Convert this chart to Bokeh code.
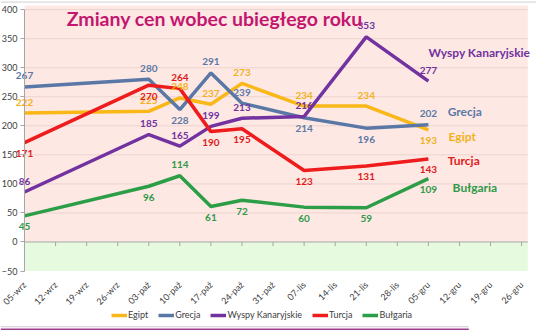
import math
from bokeh.plotting import figure
from bokeh.models import Range1d, Legend, LegendItem, Label, FixedTicker, BoxAnnotation, ColumnDataSource
from bokeh.core.properties import value
from bokeh.embed import file_html
from bokeh.resources import INLINE

# ---- data ----
dates = ["05-wrz", "12-wrz", "19-wrz", "26-wrz", "03-paź", "10-paź", "17-paź", "24-paź",
         "31-paź", "07-lis", "14-lis", "21-lis", "28-lis", "05-gru", "12-gru", "19-gru", "26-gru"]
obs_dates = ["05-wrz", "03-paź", "10-paź", "17-paź", "24-paź", "07-lis", "21-lis", "05-gru"]
egipt = [222, 225, 248, 237, 273, 234, 234, 193]
grecja = [267, 280, 228, 291, 239, 214, 196, 202]
wyspy = [86, 185, 165, 199, 213, 216, 353, 277]
turcja = [171, 270, 264, 190, 195, 123, 131, 143]
bulgaria = [45, 96, 114, 61, 72, 60, 59, 109]
y_ticks = [-50, 0, 50, 100, 150, 200, 250, 300, 350, 400]

# label placement (style)
egipt_pos = ["a", "a", "a", "a", "a", "a", "a", "b"]
grecja_pos = ["a", "a", "b", "a", "a", "b", "b", "a"]
wyspy_pos = ["a", "a", "a", "a", "a", "a", "a", "a"]
turcja_pos = ["b", "b", "a", "b", "b", "b", "b", "b"]
bulgaria_pos = ["b", "b", "a", "b", "b", "b", "b", "b"]

FONT = "Lato"
X0, X1 = -0.773, 16.48      # full-canvas frame
Y0, Y1 = -155.8, 415.7
AREA_R = 16.2               # right edge of plot area
AREA_T = 407

p = figure(width=536, height=332, output_backend="svg", toolbar_location=None,
           x_range=Range1d(X0, X1), y_range=Range1d(Y0, Y1),
           min_border_left=0, min_border_right=0, min_border_top=0, min_border_bottom=0)
p.background_fill_color = "white"
p.border_fill_color = "white"
p.outline_line_color = None
p.xgrid.grid_line_color = None
p.ygrid.grid_line_color = None

p.add_layout(BoxAnnotation(left=0, right=AREA_R, bottom=0, top=AREA_T, fill_color="#FDE8E4",
                           fill_alpha=1, line_color=None, level="underlay"))
p.add_layout(BoxAnnotation(left=0, right=AREA_R, bottom=-50, top=0, fill_color="#E6FADF",
                           fill_alpha=1, line_color=None, level="underlay"))

# page border lines (top gray, bottom gray + purple)
p.segment(x0=[X0], y0=[413], x1=[X1], y1=[413], line_color="#CFCFCF", line_width=1)
p.segment(x0=[X0], y0=[-146], x1=[14.3], y1=[-146], line_color="#CFC3CF", line_width=1)
p.segment(x0=[X0], y0=[-150], x1=[14.3], y1=[-150], line_color="#9C3D8E", line_width=1.5)

# grid lines
gt = [t for t in y_ticks if t > 0]
p.segment(x0=[0] * len(gt), y0=gt, x1=[AREA_R] * len(gt), y1=gt, line_color="#EDD3CF", line_width=1)

p.yaxis.fixed_location = 0
p.yaxis.bounds = (-50, 400)
p.yaxis.ticker = FixedTicker(ticks=y_ticks)
p.yaxis.axis_line_color = "#A6A6A6"
p.yaxis.major_tick_line_color = "#A6A6A6"
p.yaxis.major_tick_out = 4
p.yaxis.major_tick_in = 0
p.yaxis.minor_tick_line_color = None
p.yaxis.major_label_text_font_size = "9px"
p.yaxis.major_label_text_color = "#404040"
p.yaxis.major_label_text_font = FONT
p.yaxis.major_label_standoff = 3

xt = list(range(len(dates)))
p.xaxis.fixed_location = -50
p.xaxis.ticker = FixedTicker(ticks=xt)
p.xaxis.major_label_overrides = {i: d for i, d in enumerate(dates)}
p.xaxis.axis_line_color = None
p.xaxis.major_tick_line_color = None
p.xaxis.minor_tick_line_color = None
p.xaxis.major_label_orientation = math.pi / 4
p.xaxis.major_label_text_font_size = "9px"
p.xaxis.major_label_text_color = "#404040"
p.xaxis.major_label_text_font = FONT
p.xaxis.major_label_standoff = 6

# horizontal axis line at zero with tick marks
p.segment(x0=[0], y0=[0], x1=[AREA_R], y1=[0], line_color="#A6A6A6", line_width=1)
p.segment(x0=xt, y0=[0] * len(xt), x1=xt, y1=[-7] * len(xt), line_color="#A6A6A6", line_width=1)

series = [
    ("Egipt", egipt, egipt_pos, "#F9B817", "#F2B21E"),
    ("Grecja", grecja, grecja_pos, "#5A78A6", "#5B79A6"),
    ("Wyspy Kanaryjskie", wyspy, wyspy_pos, "#7232A0", "#7232A0"),
    ("Turcja", turcja, turcja_pos, "#EE1C1C", "#E21A1A"),
    ("Bułgaria", bulgaria, bulgaria_pos, "#2C9E47", "#2E9A48"),
]

xs = [dates.index(d) for d in obs_dates]
items = []
for name, vals, pos, lc, tc in series:
    r = p.line(x=xs, y=vals, line_width=3.5, line_color=lc)
    items.append(LegendItem(label=name, renderers=[r]))

for name, vals, pos, lc, tc in series:
    src = ColumnDataSource(dict(x=xs, y=vals, t=[str(v) for v in vals],
                                off=[-11 if q == "a" else 11 for q in pos]))
    p.text(x="x", y="y", text="t", y_offset="off", source=src, text_align="center",
           text_baseline="middle", text_font=value(FONT), text_font_style="bold",
           text_font_size="10px", text_color=tc)

# series name labels
name_labels = [
    ("Wyspy Kanaryjskie", 13.0, 326, "#7232A0"),
    ("Grecja", 13.62, 224, "#5B79A6"),
    ("Egipt", 13.65, 181, "#F2B21E"),
    ("Turcja", 13.62, 140, "#E21A1A"),
    ("Bułgaria", 13.78, 93, "#2E9A48"),
]
for txt, x, y, c in name_labels:
    p.add_layout(Label(x=x, y=y, text=txt, text_font=FONT, text_font_style="bold",
                       text_font_size="12px", text_color=c, text_baseline="middle"))

p.add_layout(Label(x=1.36, y=385, text="Zmiany cen wobec ubiegłego roku", text_font=FONT,
                   text_font_style="bold", text_font_size="19.5px", text_color="#C4166F",
                   text_baseline="middle"))

legend = Legend(items=items, orientation="horizontal", location=(111, 12),
                border_line_color=None, background_fill_alpha=0,
                label_text_font_size="9px", label_text_font=FONT, label_text_color="#404040",
                glyph_width=16, glyph_height=8, spacing=10, label_standoff=1,
                padding=0, margin=0, label_height=10)
p.add_layout(legend, "center")

open("out.html", "w").write(file_html(p, INLINE))
